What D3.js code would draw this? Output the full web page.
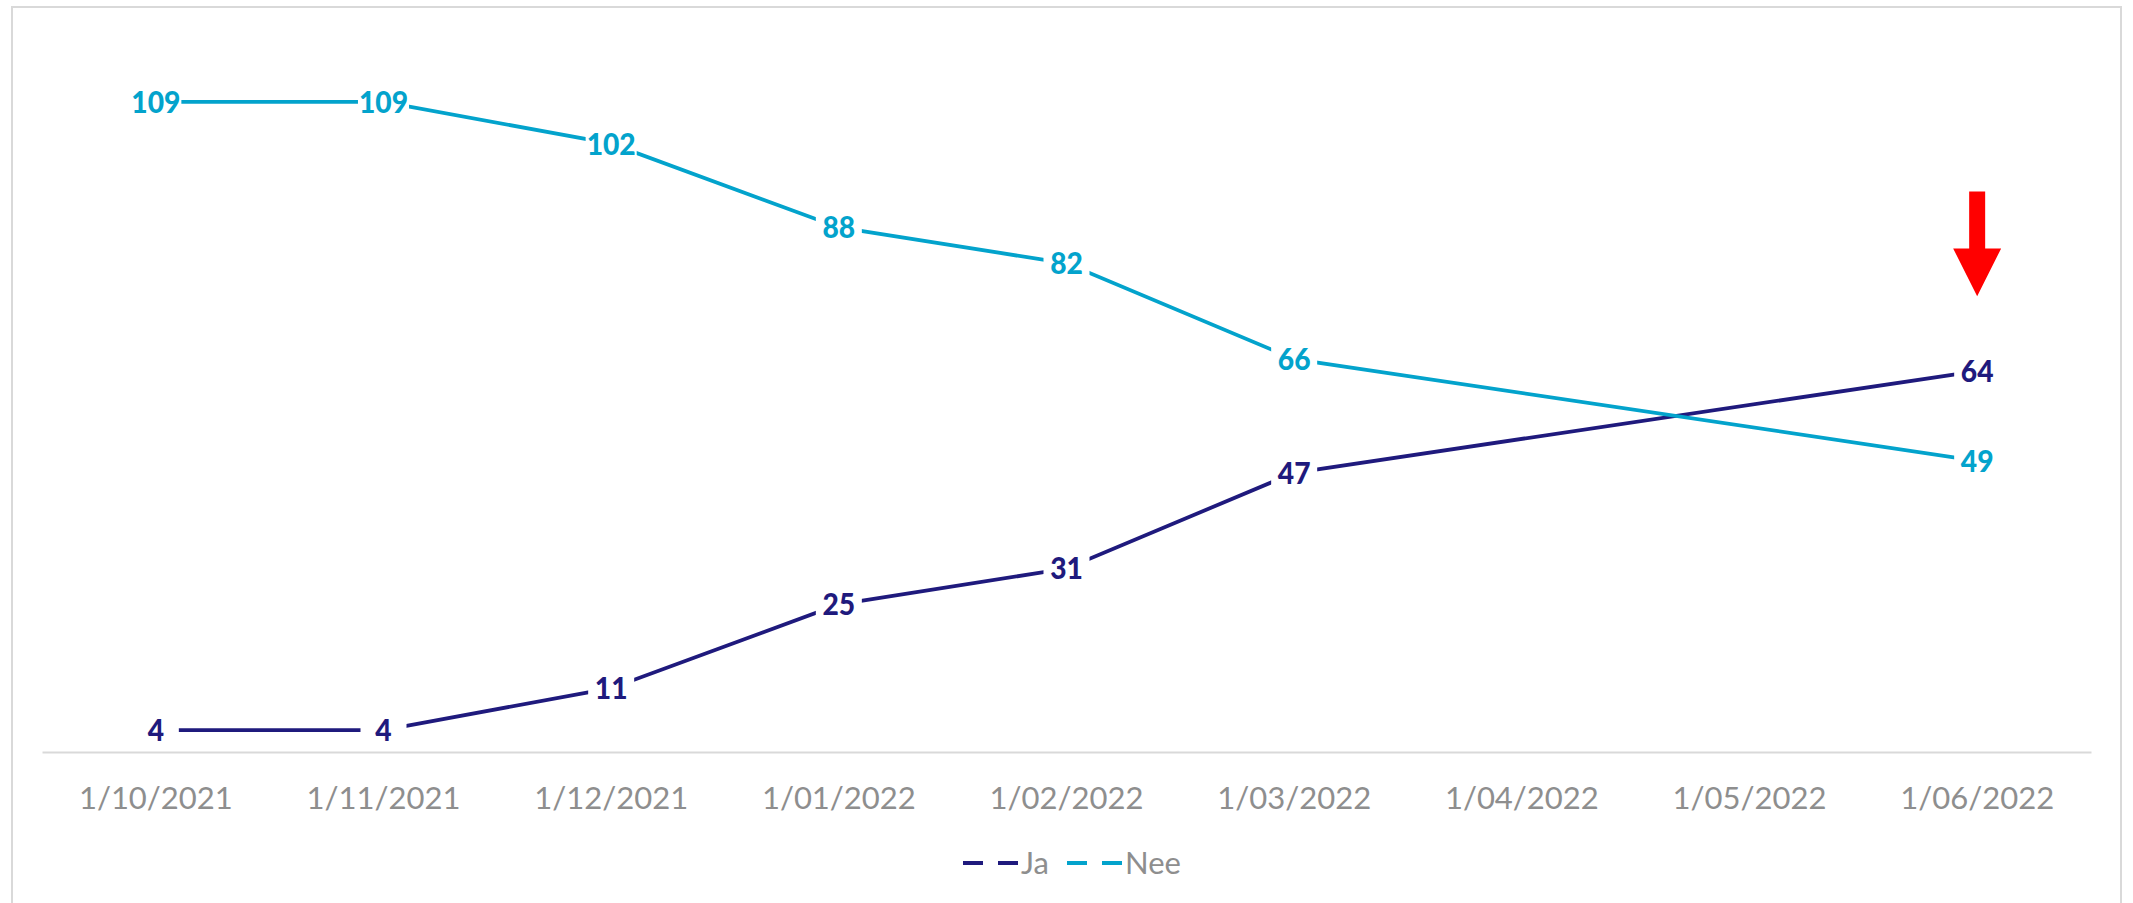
<!DOCTYPE html>
<html>
<head>
<meta charset="utf-8">
<script src="https://cdn.jsdelivr.net/npm/d3@7"></script>
<style>
  body { margin: 0; background: #fff; }
  svg { display: block; }
</style>
</head>
<body>
<svg id="chart" width="2133" height="903"></svg>
<script>
const categories = ["1/10/2021", "1/11/2021", "1/12/2021", "1/01/2022", "1/02/2022",
                    "1/03/2022", "1/04/2022", "1/05/2022", "1/06/2022"];
const jaValues  = [4, 4, 11, 25, 31, 47, null, null, 64];
const neeValues = [109, 109, 102, 88, 82, 66, null, null, 49];
const seriesNames = ["Ja", "Nee"];
const yDomain = [0, 120];
// arrow annotation (data units) above the last category
const arrowTop = 94, arrowHeadStart = 84.5, arrowTip = 76.5;

const colors = { Ja: "#1f1a7d", Nee: "#03a3cc" };
const grey = "#8e8e8e";

const svg = d3.select("#chart");

// chart frame
svg.append("rect")
    .attr("x", 12).attr("y", 7)
    .attr("width", 2109).attr("height", 910)
    .attr("fill", "none")
    .attr("stroke", "#d9d9d9")
    .attr("stroke-width", 2);

const x = d3.scaleBand().domain(categories).range([42, 2091]);
const y = d3.scaleLinear().domain(yDomain).range([754, 36]);
const cx = c => x(c) + x.bandwidth() / 2;

// x axis
const axis = svg.append("g")
    .attr("transform", "translate(0,752)")
    .call(d3.axisBottom(x).tickSize(0).tickSizeOuter(0).tickPadding(35));
axis.select(".domain").attr("stroke", "#d9d9d9").attr("stroke-width", 2);
axis.selectAll("text")
    .attr("font-family", "Lato, 'Open Sans', sans-serif")
    .attr("font-size", 31)
    .attr("fill", grey);

const series = [
    { name: "Ja", values: jaValues },
    { name: "Nee", values: neeValues }
];

const line = d3.line()
    .x(d => cx(d.cat))
    .y(d => y(d.v));

series.forEach(s => {
    const pts = categories.map((c, i) => ({ cat: c, v: s.values[i] }))
        .filter(d => d.v != null);
    s.pts = pts;
    svg.append("path")
        .datum(pts)
        .attr("d", line)
        .attr("fill", "none")
        .attr("stroke", colors[s.name])
        .attr("stroke-width", 3.8);
});

// data labels with white boxes knocking out the line
series.forEach(s => {
    const g = svg.append("g").selectAll("g")
        .data(s.pts)
        .join("g")
        .attr("transform", d => `translate(${cx(d.cat)},${y(d.v)})`);
    const rects = g.append("rect").attr("fill", "#fff");
    const texts = g.append("text")
        .attr("text-anchor", "middle")
        .attr("dy", "0.36em")
        .attr("font-family", "Lato, 'Open Sans', sans-serif")
        .attr("font-weight", 900)
        .attr("font-size", 30)
        .attr("transform", "scale(0.94,1)")
        .attr("fill", colors[s.name])
        .text(d => d.v);
    texts.each(function(d) { d.w = Math.max(46, this.getComputedTextLength() * 0.94 + 2); });
    rects.attr("x", d => -d.w / 2).attr("y", -16)
        .attr("width", d => d.w).attr("height", 32);
});

// red arrow
const ax = cx(categories[categories.length - 1]);
svg.append("path")
    .attr("d", `M${ax - 8},${y(arrowTop)}H${ax + 8}V${y(arrowHeadStart)}H${ax + 24}` +
               `L${ax},${y(arrowTip)}L${ax - 24},${y(arrowHeadStart)}H${ax - 8}Z`)
    .attr("fill", "#ff0000");

// legend
const legend = svg.append("g").attr("transform", "translate(963,863)");
const itemX = [0, 104];
seriesNames.forEach((name, i) => {
    const g = legend.append("g").attr("transform", `translate(${itemX[i]},0)`);
    g.append("line")
        .attr("x1", 0).attr("x2", 55)
        .attr("stroke", colors[name])
        .attr("stroke-width", 4)
        .attr("stroke-dasharray", "20 15");
    g.append("text")
        .attr("x", 58)
        .attr("dy", "0.36em")
        .attr("font-family", "Lato, 'Open Sans', sans-serif")
        .attr("font-size", 31)
        .attr("fill", grey)
        .text(name);
});
</script>
</body>
</html>
